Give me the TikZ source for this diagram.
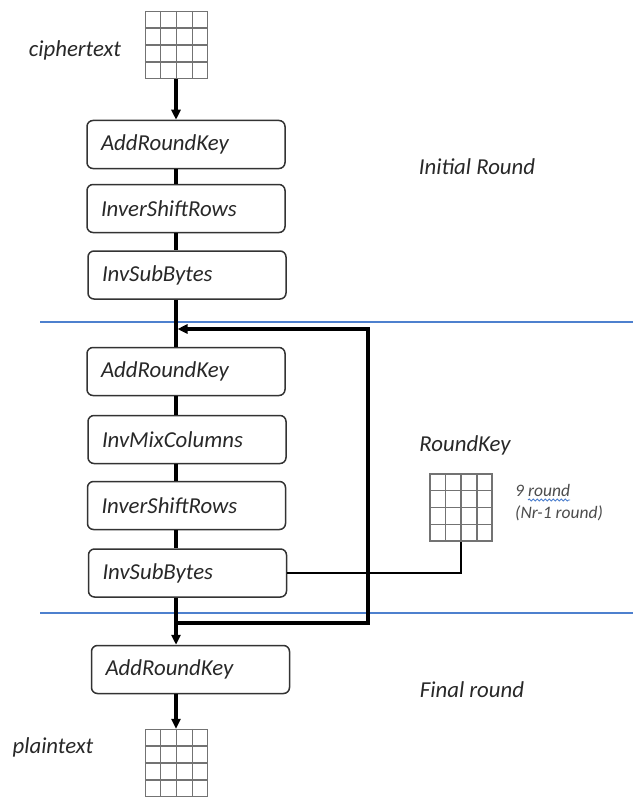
\documentclass[tikz,border=0pt]{standalone}
\usepackage{fontspec}
\setmainfont{Carlito}
\usetikzlibrary{arrows.meta,calc,decorations.pathmorphing}
\definecolor{sepblue}{RGB}{78,128,206}
\definecolor{txt}{RGB}{40,40,40}
\begin{document}
\begin{tikzpicture}[x=1pt,y=-1pt,
  stage/.style={draw=black!80, line width=1.5pt, rounded corners=6pt, minimum height=48pt,
    minimum width=198pt, text width=170pt, inner xsep=14pt, inner ysep=0pt, align=left,
    font=\fontsize{22.8}{27}\selectfont\itshape, text=txt},
  keybox/.style={draw=black!55, line width=1.4pt, minimum width=62pt, minimum height=67pt, inner sep=0pt},
  gridline/.style={draw=black!55, line width=1.3pt},
  lbl/.style={font=\fontsize{22.8}{27}\selectfont\itshape, text=txt, inner sep=0pt},
  small/.style={font=\fontsize{17.5}{21}\selectfont\itshape, text=black!70, inner sep=0pt},
  flow/.style={line width=3.3pt, black},
  keyline/.style={line width=1.6pt, black},
  tip/.style={-{Triangle[length=10pt,width=9pt]}},
  sep/.style={draw=sepblue, line width=1.3pt}
]
\useasboundingbox (0,0) rectangle (633,797);

% separators
\draw[sep] (40,322) -- (633,322);
\draw[sep] (40,613) -- (633,613);

% main column coordinate
\coordinate (mx) at (176,0);

% grids
\node[keybox] (ct) at (176.5,45) {};
\node[keybox] (rk) at (461,507.5) {};
\node[keybox] (pt) at (176.5,763) {};
\foreach \g in {ct,rk,pt}{
  \foreach \i in {1,2,3}{
    \draw[gridline] ($(\g.north west)!\i/4!(\g.north east)$) -- ($(\g.south west)!\i/4!(\g.south east)$);
    \draw[gridline] ($(\g.north west)!\i/4!(\g.south west)$) -- ($(\g.north east)!\i/4!(\g.south east)$);
  }
}

% stages
\node[stage] (b1) at (186,144.5) {AddRoundKey};
\node[stage] (b2) at (186,208.5) {InverShiftRows};
\node[stage] (b3) at (187,275) {InvSubBytes};
\node[stage] (b4) at (186,371.5) {AddRoundKey};
\node[stage] (b5) at (187,439.5) {InvMixColumns};
\node[stage] (b6) at (186.5,505.5) {InverShiftRows};
\node[stage] (b7) at (187.5,573) {InvSubBytes};
\node[stage] (b8) at (190.5,669.5) {AddRoundKey};

% labels
\node[lbl] (lc) at (75,50) {ciphertext};
\node[lbl] (lp) at (53,747) {plaintext};
\node[lbl] (li) at (477,167) {Initial Round};
\node[lbl] (lr) at (465,445) {RoundKey};
\node[lbl] (lf) at (472,690) {Final round};
\node[small,anchor=base west] (nine) at (515,496) {9 round};
\node[small,anchor=base west] (nr) at (515,518) {(Nr-1 round)};
\draw[sepblue, line width=0.9pt, decorate, decoration={snake, amplitude=1pt, segment length=4pt}]
  ($(nine.base west)+(13,4)$) -- ($(nine.base west)+(55,4)$);

% flow connectors
\draw[flow,tip] (ct.south -| mx) -- (b1.north -| mx);
\draw[flow] (b1.south -| mx) -- (b2.north -| mx);
\draw[flow] (b2.south -| mx) -- (b3.north -| mx);
\draw[flow] (b3.south -| mx) -- (b4.north -| mx);
\draw[flow] (b4.south -| mx) -- (b5.north -| mx);
\draw[flow] (b5.south -| mx) -- (b6.north -| mx);
\draw[flow] (b6.south -| mx) -- (b7.north -| mx);
\draw[flow,tip] (b7.south -| mx) -- (b8.north -| mx);
\draw[flow,tip] (b8.south -| mx) -- (pt.north -| mx);

% loop back
\coordinate (lb) at (176,623);
\coordinate (lt) at (177.5,329);
\draw[flow,tip,line join=miter] (lb) -- (368,623) -- (368,329) -- (lt);

% round key feed
\draw[keyline] (b7.east) -| (rk.south);
\end{tikzpicture}
\end{document}
